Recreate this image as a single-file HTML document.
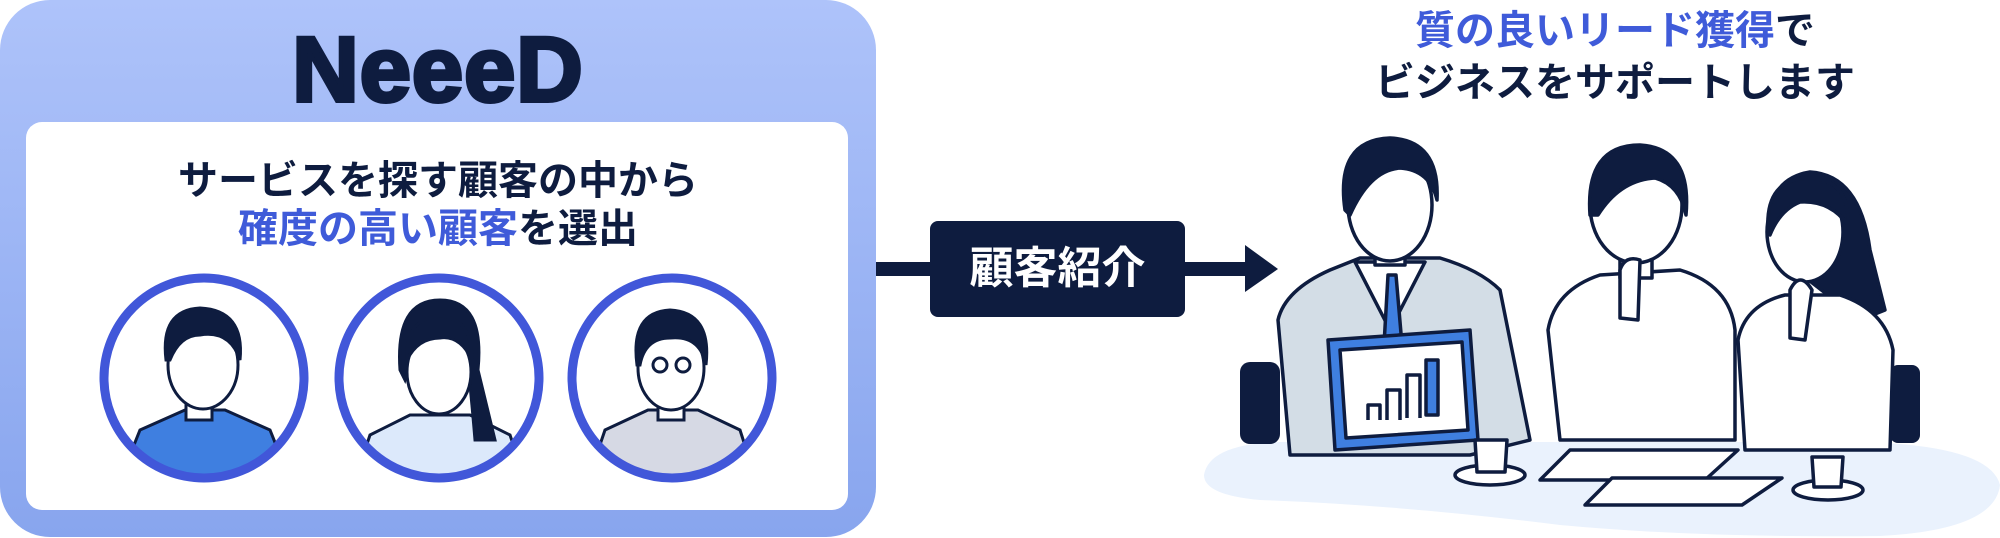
<!DOCTYPE html>
<html><head><meta charset="utf-8"><style>
html,body{margin:0;padding:0;background:#fff;}
body{width:2000px;height:538px;overflow:hidden;position:relative;font-family:"Liberation Sans","Noto Sans CJK JP",sans-serif;}
.t{position:absolute;white-space:nowrap;font-weight:bold;text-align:center;}
</style></head><body>
<svg width="2000" height="538" viewBox="0 0 2000 538" style="position:absolute;left:0;top:0">
<defs>
<linearGradient id="g" x1="0" y1="0" x2="0" y2="1"><stop offset="0" stop-color="#aec3fa"/><stop offset="1" stop-color="#88a5ee"/></linearGradient>
<clipPath id="c1"><circle cx="204" cy="378" r="96"/></clipPath>
<clipPath id="c2"><circle cx="439" cy="378" r="96"/></clipPath>
<clipPath id="c3"><circle cx="672" cy="378" r="96"/></clipPath>
</defs>
<rect x="0" y="0" width="876" height="537" rx="50" fill="url(#g)"/>
<rect x="26" y="122" width="822" height="388" rx="16" fill="#fff"/>
<g stroke="#0e1c3f" stroke-width="3">
 <g clip-path="url(#c1)">
  <path d="M120 480 L140 430 L185 410 L225 410 L270 430 L290 480Z" fill="#3f7fe0"/>
  <rect x="186" y="385" width="26" height="35" fill="#fff"/>
  <ellipse cx="203" cy="365" rx="35" ry="44" fill="#fff"/>
  <path d="M166 360 Q160 310 200 308 Q245 310 240 360 Q230 330 200 335 Q180 335 170 360Z" fill="#0e1c3f"/>
 </g>
 <g clip-path="url(#c2)">
  <path d="M355 480 L370 435 L410 415 L470 415 L510 435 L525 480Z" fill="#dce9fb"/>
  <path d="M400 370 Q395 300 440 300 Q485 300 478 370 L495 440 L475 440 Q470 380 465 340 Q440 330 412 340 Q408 370 405 380Z" fill="#0e1c3f"/>
  <ellipse cx="439" cy="372" rx="32" ry="42" fill="#fff"/>
  <path d="M407 360 Q405 318 440 316 Q472 318 472 360 Q460 335 440 338 Q418 338 407 360Z" fill="#0e1c3f"/>
 </g>
 <g clip-path="url(#c3)">
  <path d="M588 480 L605 430 L648 410 L698 410 L740 430 L756 480Z" fill="#d6d9e4"/>
  <rect x="658" y="385" width="26" height="35" fill="#fff"/>
  <ellipse cx="671" cy="368" rx="33" ry="42" fill="#fff"/>
  <path d="M637 365 Q630 312 670 310 Q712 312 706 365 Q700 335 670 338 Q645 338 640 365Z" fill="#0e1c3f"/>
  <circle cx="660" cy="365" r="7" fill="none"/><circle cx="683" cy="365" r="7" fill="none"/>
 </g>
</g>
<g fill="none" stroke="#4157d9" stroke-width="9">
 <circle cx="204" cy="378" r="100"/><circle cx="439" cy="378" r="100"/><circle cx="672" cy="378" r="100"/>
</g>
<rect x="876" y="262" width="60" height="14" fill="#0e1c3f"/>
<rect x="930" y="221" width="255" height="96" rx="8" fill="#0e1c3f"/>
<rect x="1185" y="262" width="62" height="14" fill="#0e1c3f"/>
<polygon points="1245,245 1278,269 1245,292" fill="#0e1c3f"/>
<path d="M1204 475 Q1210 440 1300 442 L1860 442 Q1990 445 2000 485 Q1995 530 1880 536 Q1700 538 1560 525 Q1400 505 1260 500 Q1204 495 1204 475Z" fill="#eaf2fd"/>
<g fill="#0e1c3f">
 <rect x="1240" y="362" width="40" height="82" rx="10"/>
 <rect x="1705" y="360" width="28" height="80" rx="8"/>
 <rect x="1890" y="365" width="30" height="78" rx="8"/>
</g>
<g stroke="#0e1c3f" stroke-width="3.5" stroke-linejoin="round">
 <path d="M1290 455 L1278 320 Q1285 290 1330 270 L1360 258 L1440 258 Q1480 270 1500 290 L1530 440 L1470 455Z" fill="#d3dde6"/>
 <path d="M1355 262 L1390 330 L1425 262Z" fill="#fff"/>
 <path d="M1388 275 L1396 275 L1402 345 L1384 345Z" fill="#3f7fe0"/>
 <rect x="1375" y="225" width="30" height="40" fill="#fff"/>
 <ellipse cx="1390" cy="205" rx="42" ry="56" fill="#fff"/>
 <path d="M1345 210 Q1335 140 1390 138 Q1440 140 1437 200 Q1430 170 1400 168 Q1370 170 1350 215Z" fill="#0e1c3f"/>
 <path d="M1328 340 L1470 330 L1478 440 L1335 450Z" fill="#3f7fe0"/>
 <path d="M1340 350 L1462 342 L1468 430 L1346 438Z" fill="#fff"/>
 <path d="M1368 420 L1368 405 L1380 405 L1380 420 M1387 420 L1387 390 L1400 390 L1400 420 M1407 418 L1407 375 L1420 375 L1420 418" fill="#fff"/>
 <rect x="1426" y="360" width="12" height="55" fill="#3f7fe0"/>
 <path d="M1560 440 L1548 330 Q1555 290 1600 275 L1680 270 Q1730 285 1735 330 L1735 440Z" fill="#fff"/>
 <rect x="1620" y="240" width="32" height="38" fill="#fff"/>
 <ellipse cx="1636" cy="205" rx="46" ry="58" fill="#fff"/>
 <path d="M1590 215 Q1585 145 1640 145 Q1692 148 1686 215 Q1680 185 1655 178 Q1620 180 1598 215Z" fill="#0e1c3f"/>
 <path d="M1620 270 Q1625 255 1640 260 L1638 320 L1620 318Z" fill="#fff"/>
 <path d="M1770 250 Q1760 180 1810 172 Q1860 175 1870 250 L1885 310 L1860 320 Z" fill="#0e1c3f"/>
 <path d="M1745 450 L1738 340 Q1745 305 1785 295 L1840 295 Q1885 310 1893 350 L1890 450Z" fill="#fff"/>
 <ellipse cx="1805" cy="232" rx="38" ry="50" fill="#fff"/>
 <path d="M1768 230 Q1765 178 1810 178 Q1850 180 1848 225 Q1830 200 1800 202 Q1780 210 1770 235Z" fill="#0e1c3f"/>
 <path d="M1790 290 Q1800 270 1812 290 L1805 340 L1790 338Z" fill="#fff"/>
 <ellipse cx="1490" cy="475" rx="35" ry="10" fill="#fff"/>
 <path d="M1475 440 L1507 440 L1505 472 L1477 472Z" fill="#fff"/>
 <ellipse cx="1828" cy="490" rx="35" ry="10" fill="#fff"/>
 <path d="M1812 457 L1843 457 L1841 487 L1814 487Z" fill="#fff"/>
 <path d="M1570 450 L1738 450 L1705 480 L1540 480Z" fill="#fff"/>
 <path d="M1612 478 L1782 478 L1742 505 L1585 505Z" fill="#fff"/>
</g>
</svg>
<div class="t" style="left:238px;top:24px;width:400px;font-size:92px;line-height:92px;color:#0e1c3f;font-weight:900;letter-spacing:1px;-webkit-text-stroke:4px #0e1c3f">NeeeD</div>
<div class="t" style="left:138px;top:158px;width:600px;font-size:40px;line-height:46px;color:#0e1c3f">サービスを探す顧客の中から</div>
<div class="t" style="left:138px;top:206px;width:600px;font-size:40px;line-height:46px;color:#0e1c3f"><span style="color:#3f5bd9">確度の高い顧客</span>を選出</div>
<div class="t" style="left:930px;top:244px;width:255px;font-size:44px;line-height:50px;color:#fff">顧客紹介</div>
<div class="t" style="left:1315px;top:7px;width:600px;font-size:40px;line-height:48px;color:#0e1c3f"><span style="color:#3f5bd9">質の良いリード獲得</span>で</div>
<div class="t" style="left:1315px;top:59px;width:600px;font-size:40px;line-height:48px;color:#0e1c3f">ビジネスをサポートします</div>
</body></html>
